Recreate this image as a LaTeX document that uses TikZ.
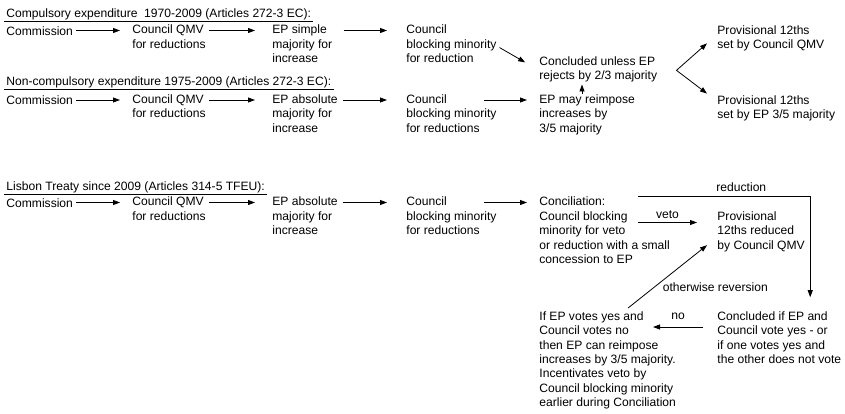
\documentclass[tikz,border=0pt]{standalone}
\usepackage{fontspec}
\setmainfont{Liberation Sans}
\usetikzlibrary{arrows.meta}

\begin{document}
\begin{tikzpicture}[x=1pt, y=-1pt, >={Triangle[length=7pt,width=5pt]}, line width=0.8pt,
	font=\fontsize{12.1}{14.4}\selectfont,
	txt/.style={anchor=north west, inner sep=0pt, align=left, execute at begin node=\strut},
	hdr/.style={anchor=base west, inner xsep=2pt, inner ysep=0.8pt}]
	\useasboundingbox (0,0) rectangle (845,413);
	% headings
	\node[hdr] (h1) at (4,17.6) {Compulsory expenditure~ 1970-2009 (Articles 272-3 EC):};
	\node[hdr] (h2) at (4,85.3) {Non-compulsory expenditure 1975-2009 (Articles 272-3 EC):};
	\node[hdr] (h3) at (4,190.5) {Lisbon Treaty since 2009 (Articles 314-5 TFEU):};
	\draw[line width=0.7pt] (h1.south west) -- (h1.south east) (h2.south west) -- (h2.south east) (h3.south west) -- (h3.south east);
	\coordinate (a1) at (0,30.5);
	\coordinate (a2) at (0,100);
	\coordinate (a3) at (0,202.5);
	% compulsory
	\node[txt] (comm1) at (6,24.7) {Commission};
	\node[txt] (qmv1) at (132,24.7) {Council QMV\\for reductions};
	\node[txt] (ep1) at (272,24.7) {EP simple\\majority for\\increase};
	\node[txt] (cbm1) at (406,24.7) {Council\\blocking minority\\for reduction};
	\node[txt] (concl1) at (539,56.2) {Concluded unless EP\\rejects by 2/3 majority};
	\node[txt] (prov1) at (717,25.2) {Provisional 12ths\\set by Council QMV};
	\node[txt] (prov2) at (717,95.4) {Provisional 12ths\\set by EP 3/5 majority};
	% non-compulsory
	\node[txt] (comm2) at (6,94.2) {Commission};
	\node[txt] (qmv2) at (132,94.2) {Council QMV\\for reductions};
	\node[txt] (ep2) at (272,94.2) {EP absolute\\majority for\\increase};
	\node[txt] (cbm2) at (406,94.2) {Council\\blocking minority\\for reductions};
	\node[txt] (epmay) at (539,94.2) {EP may reimpose\\increases by\\3/5 majority};
	% lisbon
	\node[txt] (comm3) at (6,196.7) {Commission};
	\node[txt] (qmv3) at (132,196.7) {Council QMV\\for reductions};
	\node[txt] (ep3) at (272,196.7) {EP absolute\\majority for\\increase};
	\node[txt] (cbm3) at (406,196.7) {Council\\blocking minority\\for reductions};
	\node[txt] (concil) at (539,196.7) {Conciliation:\\Council blocking\\minority for veto\\or reduction with a small\\concession to EP};
	\node[txt] (prov3) at (717,211.2) {Provisional\\12ths reduced\\by Council QMV};
	\node[txt] (ifep) at (539,311.2) {If EP votes yes and\\Council votes no\\then EP can reimpose\\increases by 3/5 majority.\\Incentivates veto by\\Council blocking minority\\earlier during Conciliation};
	\node[txt] (concif) at (717,311.2) {Concluded if EP and\\Council vote yes - or\\if one votes yes and\\the other does not vote};
	% arrows along the rows
	\draw[->,shorten <=3pt,shorten >=12pt] (comm1.east |- a1) -- (qmv1.west |- a1);
	\draw[->,shorten <=3pt,shorten >=17pt] (qmv1.east |- a1) -- (ep1.west |- a1);
	\draw[->,shorten <=11pt,shorten >=19pt] (ep1.east |- a1) -- (cbm1.west |- a1);
	\draw[->,shorten <=3pt,shorten >=12pt] (comm2.east |- a2) -- (qmv2.west |- a2);
	\draw[->,shorten <=3pt,shorten >=17pt] (qmv2.east |- a2) -- (ep2.west |- a2);
	\draw[->,shorten <=5pt,shorten >=19pt] (ep2.east |- a2) -- (cbm2.west |- a2);
	\draw[->,shorten <=78pt,shorten >=12pt] (cbm2.west |- a2) -- (epmay.west |- a2);
	\draw[->,shorten <=3pt,shorten >=12pt] (comm3.east |- a3) -- (qmv3.west |- a3);
	\draw[->,shorten <=3pt,shorten >=17pt] (qmv3.east |- a3) -- (ep3.west |- a3);
	\draw[->,shorten <=5pt,shorten >=19pt] (ep3.east |- a3) -- (cbm3.west |- a3);
	\draw[->,shorten <=78pt,shorten >=12pt] (cbm3.west |- a3) -- (concil.west |- a3);
	% outcome of the old procedure
	\draw[->,shorten <=3pt,shorten >=16pt] (cbm1.east) -- (concl1.west);
	\draw[->] ([xshift=43pt]epmay.north west) -- ([xshift=43pt]concl1.south west);
	\coordinate (fork) at ([xshift=19pt]concl1.east);
	\draw[<->] ([shift={(-10,4)}]prov1.west) -- (fork) -- ([shift={(-10,-16)}]prov2.west);
	% conciliation
	\coordinate (vetoS) at ([shift={(99,25.8)}]concil.north west);
	\draw[->] (vetoS) -- ([xshift=-20pt]prov3.west |- vetoS) node[midway,above] {veto};
	\draw[->,shorten >=14pt] ([shift={(99,-0.7)}]concil.north west) -| ([xshift=5pt]prov3.east |- concif.north) node[pos=0.3,above=1pt] {reduction};
	\draw[->] ([shift={(-14,15.8)}]concif.north west) -- ([shift={(114,15.8)}]ifep.north west) node[midway,above=3.5pt] {no};
	\draw[->] ([shift={(20.4,-3.2)}]ifep.north) -- ([shift={(-10,-8.7)}]prov3.south west) node[pos=0.33,right=5pt] {otherwise reversion};
\end{tikzpicture}
\end{document}
